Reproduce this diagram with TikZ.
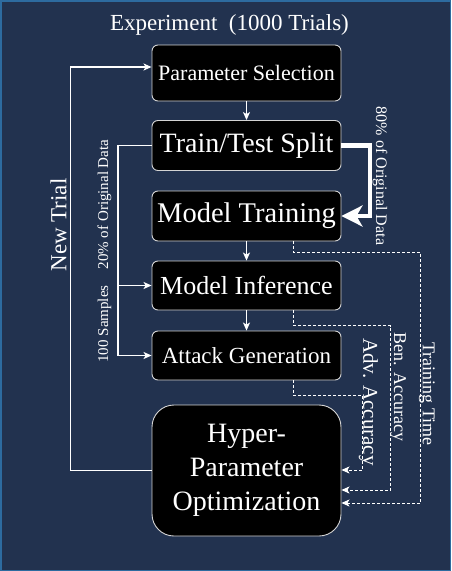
\documentclass[tikz,border=0pt]{standalone}
\usepackage{fontspec}
\setmainfont{Liberation Serif}
\usetikzlibrary{arrows.meta,calc}
\definecolor{bgc}{HTML}{22324F}
\definecolor{framec}{HTML}{2D6B9F}
\definecolor{boxline}{HTML}{D4D4D4}
\begin{document}
\begin{tikzpicture}[x=1pt,y=-1pt,
  box/.style={draw=boxline,line width=0.9pt,fill=black,text=white,rounded corners=6pt,
    minimum width=189pt,inner sep=0pt,anchor=center},
  conn/.style={draw=white,line width=1.2pt,-{Stealth[length=8pt,width=7pt,inset=2pt]}},
  plain/.style={draw=white,line width=1.2pt},
  dconn/.style={draw=white,line width=1pt,dash pattern=on 3pt off 2pt,
    -{Stealth[length=8pt,width=7pt,inset=2pt]}},
  thickarr/.style={draw=white,line width=4.5pt,-{Stealth[length=21pt,width=21pt,inset=6pt]}},
  lbl/.style={text=white,inner sep=0pt,anchor=center}]
\useasboundingbox (0,0) rectangle (451,571);
\fill[bgc] (0,0) rectangle (451,571);
\draw[framec,line width=1.5pt] (0.75,0.75) rectangle (450.25,570.25);

\node[lbl,font=\fontsize{23}{27}\selectfont] (title) at (229.5,25) {Experiment\ \ (1000 Trials)};

\node[box,minimum height=56pt,font=\fontsize{22}{26}\selectfont] (ps) at (246.5,73) {Parameter Selection};
\node[box,minimum height=50pt,font=\fontsize{28}{32}\selectfont] (tts) at (246.5,145.5) {Train/Test Split};
\node[box,minimum height=50pt,font=\fontsize{28.5}{32}\selectfont] (mt) at (246.5,216) {Model Training};
\node[box,minimum height=49pt,font=\fontsize{26}{30}\selectfont] (mi) at (246.5,285.5) {Model Inference};
\node[box,minimum height=49pt,font=\fontsize{23}{27}\selectfont] (ag) at (246.5,355.5) {Attack Generation};
\node[box,minimum height=131pt,rounded corners=22pt,align=center,font=\fontsize{28}{34}\selectfont] (hpo) at (246.5,470.5) {Hyper-\\Parameter\\Optimization};

% vertical flow
\draw[conn] (ps.south) -- (tts.north);
\draw[conn] (mt.south) -- (mi.north);
\draw[conn] (mi.south) -- (ag.north);

% 80% thick arrow
\draw[thickarr] (tts.east) -- ++(28.5,0) |- (mt.east);

% 20% / 100 samples
\coordinate (lx) at (118,0);
\draw[conn] (tts.west) -| (lx |- ag.west) -- (ag.west);
\draw[conn] (lx |- mi.west) -- (mi.west);

% new trial loop
\coordinate (nx) at (70.5,0);
\draw[conn] (hpo.west) -| (nx |- 0,67) -- ([yshift=6pt]ps.west);

% dashed metrics
\draw[dconn] ([xshift=46.5pt]mt.south) |- (420.5,252) |- (hpo.east |- 0,503);
\draw[dconn] ([xshift=46.5pt]mi.south) |- (390.5,325.5) |- (hpo.east |- 0,490);
\draw[dconn] ([xshift=46.5pt]ag.south) |- (362.5,395) |- (hpo.east |- 0,470);

% labels
\node[lbl,rotate=90,font=\fontsize{23}{27}\selectfont] (lnew) at (58.5,225) {New Trial};
\node[lbl,rotate=90,font=\fontsize{15}{18}\selectfont] (l20) at (104.5,204.5) {20\% of Original Data};
\node[lbl,rotate=90,font=\fontsize{15}{18}\selectfont] (l100) at (104.5,324) {100 Samples};
\node[lbl,rotate=-90,font=\fontsize{16}{19}\selectfont] (l80) at (380,176) {80\% of Original Data};
\node[lbl,rotate=-90,font=\fontsize{18}{21}\selectfont] (ltt) at (427,394) {Training Time};
\node[lbl,rotate=-90,font=\fontsize{18}{21}\selectfont] (lben) at (398,387) {Ben. Accuracy};
\node[lbl,rotate=-90,font=\fontsize{21}{24}\selectfont] (ladv) at (368.5,402) {Adv. Accuracy};
\end{tikzpicture}
\end{document}
